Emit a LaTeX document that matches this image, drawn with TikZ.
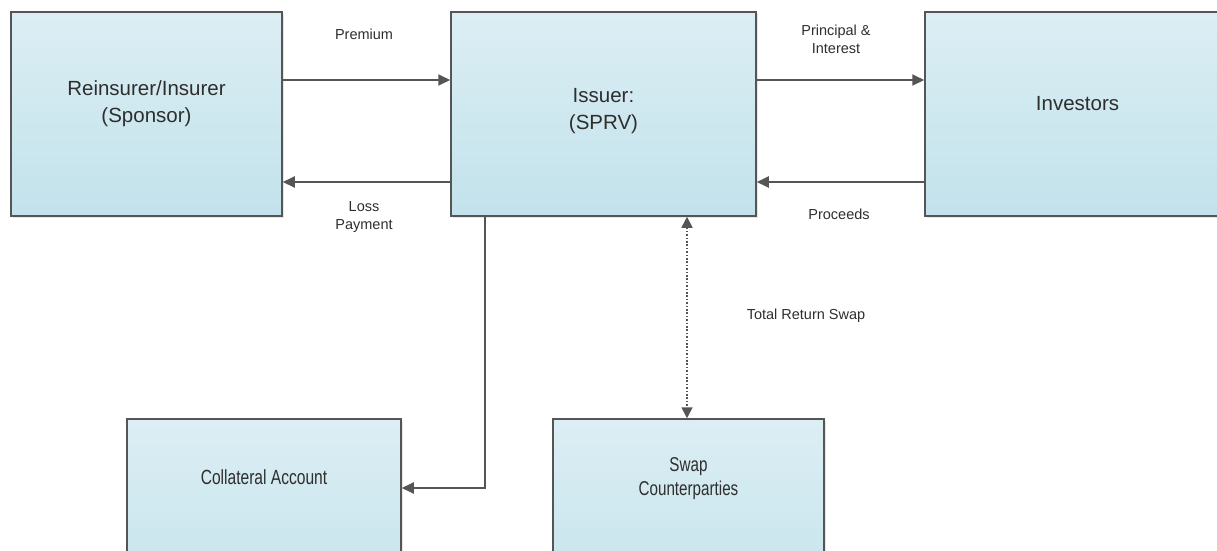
\documentclass[tikz,border=0pt]{standalone}
\usepackage{fontspec}
\setmainfont{Liberation Sans}
\usetikzlibrary{arrows.meta,shadows}
\definecolor{boxtop}{HTML}{DCEEF4}
\definecolor{boxbot}{HTML}{C2E2EB}
\definecolor{edgegray}{HTML}{555555}
\definecolor{inkgray}{HTML}{2E2E2E}
\newcommand{\narrowtext}[1]{\scalebox{0.76}[1]{#1}}

\begin{document}
\begin{tikzpicture}[x=1pt,y=-1pt]
    \tikzset{box/.style = {shape=rectangle,draw=edgegray,line width=1.5pt,top color=boxtop,bottom color=boxbot,
        drop shadow={shadow xshift=2pt,shadow yshift=-2pt,opacity=0.2,fill=gray},minimum height=204pt,inner sep=0pt}}
    \tikzset{boxtext/.style = {align=center,text=inkgray,font=\fontsize{20.5}{27.5}\selectfont}}
    \tikzset{flowlabel/.style = {align=center,text=inkgray,font=\fontsize{14.5}{18}\selectfont}}
    \tikzset{flow/.style = {draw=edgegray,line width=1.9pt,-{Triangle[length=12pt,width=11pt]}}}
    \tikzset{swapflow/.style = {draw=edgegray,line width=1.6pt,dash pattern=on 1.6pt off 1.8pt,
        {Triangle[length=11pt,width=11pt]}-{Triangle[length=11pt,width=11pt]}}}
    \clip (0,0) rectangle (1217,550);
    % boxes
    \node[box,minimum width=271pt] (sponsor) at (146.5,114) {};
    \node[box,minimum width=305pt] (issuer) at (603.5,114) {};
    \node[box,minimum width=305pt] (investors) at (1077.5,114) {};
    \node[box,minimum width=274pt] (collateral) at (264,521) {};
    \node[box,minimum width=271pt] (swap) at (688.5,521) {};
    % box texts
    \node[boxtext] (sponsortxt) at ([yshift=-92.5pt]sponsor.north) {Reinsurer/Insurer\\(Sponsor)};
    \node[boxtext] (issuertxt) at ([yshift=-100pt]issuer.north) {Issuer:\\(SPRV)};
    \node[boxtext] (investorstxt) at ([yshift=-92pt]investors.north) {Investors};
    \node[boxtext] (collateraltxt) at ([yshift=-59pt]collateral.north) {\narrowtext{Collateral Account}};
    \node[boxtext,font=\fontsize{20}{24}\selectfont] (swaptxt) at ([yshift=-60pt]swap.north) {\narrowtext{Swap}\\\narrowtext{Counterparties}};
    % connectors
    \draw[flow] ([yshift=34pt]sponsor.east) -- ([yshift=34pt]issuer.west);
    \draw[flow] ([yshift=-68pt]issuer.west) -- ([yshift=-68pt]sponsor.east);
    \draw[flow] ([yshift=34pt]issuer.east) -- ([yshift=34pt]investors.west);
    \draw[flow] ([yshift=-68pt]investors.west) -- ([yshift=-68pt]issuer.east);
    \draw[flow] ([xshift=34.5pt]issuer.south west) |- ([yshift=33pt]collateral.east);
    \draw[swapflow] ([xshift=83.5pt]issuer.south) -- ([xshift=83.5pt]issuer.south |- swap.north);
    % labels
    \node[flowlabel] (premium) at (364,34) {Premium};
    \node[flowlabel] (loss) at (364,217) {Loss\\Payment};
    \node[flowlabel] (principal) at (836,39) {Principal \&\\Interest};
    \node[flowlabel] (proceeds) at (839,214) {Proceeds};
    \node[flowlabel] (trs) at (806,316) {Total Return Swap};
\end{tikzpicture}
\end{document}
